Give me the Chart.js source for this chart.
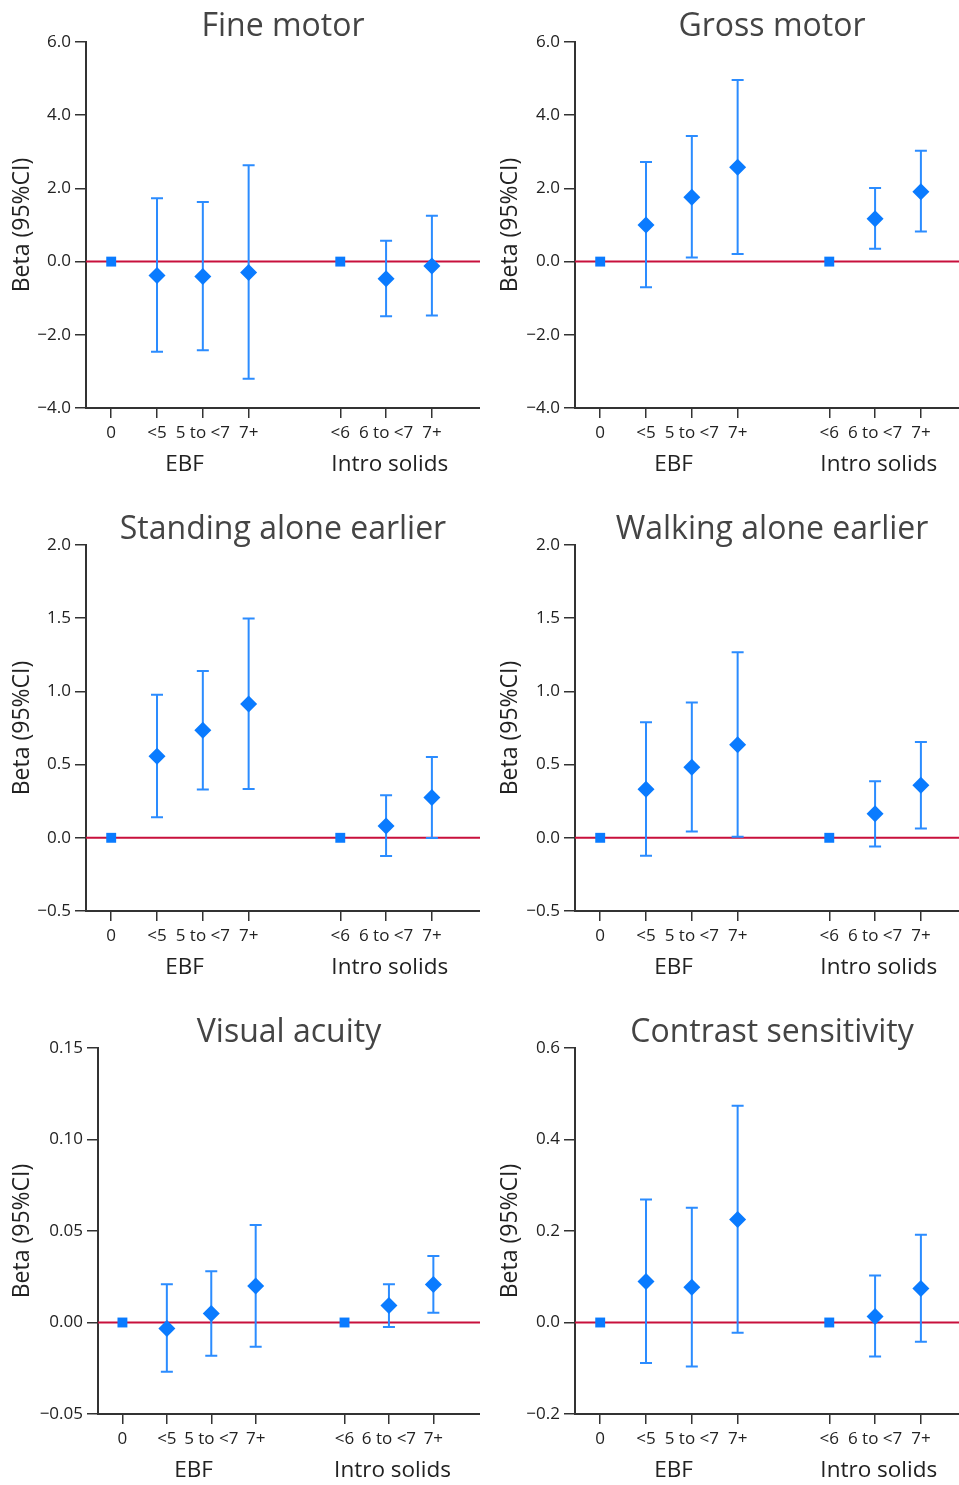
<!DOCTYPE html>
<html>
<head>
<meta charset="utf-8">
<script src="https://cdn.jsdelivr.net/npm/chart.js@4.4.1/dist/chart.umd.min.js"></script>
<style>
  html, body { margin: 0; padding: 0; background: #fff; }
  #page { position: relative; width: 959px; height: 1485px; overflow: hidden; }
  .panel { position: absolute; }
</style>
</head>
<body>
<div id="page">
  <div class="panel" style="left:0;top:0;width:480px;height:503px"><canvas id="fineMotor"></canvas></div>
  <div class="panel" style="left:480px;top:0;width:489px;height:503px"><canvas id="grossMotor"></canvas></div>
  <div class="panel" style="left:0;top:503px;width:480px;height:503px"><canvas id="standing"></canvas></div>
  <div class="panel" style="left:480px;top:503px;width:489px;height:503px"><canvas id="walking"></canvas></div>
  <div class="panel" style="left:0;top:1006px;width:480px;height:503px"><canvas id="acuity"></canvas></div>
  <div class="panel" style="left:480px;top:1006px;width:489px;height:503px"><canvas id="contrast"></canvas></div>
</div>
<script>
// categories on the x axis (gap between the two exposure groups)
const xPositions = [0, 1, 2, 3, 5, 6, 7];
const xTickLabels = ['0', '<5', '5 to <7', '7+', '<6', '6 to <7', '7+'];
const groupPositions = [1.6, 6.08];
const groupLabels = ['EBF', 'Intro solids'];
const referenceFlags = [true, false, false, false, true, false, false];

// Fine motor
const fineMotorBeta = [0, -0.38, -0.41, -0.30, 0, -0.47, -0.12];
const fineMotorLow = [null, -2.46, -2.42, -3.20, null, -1.49, -1.47];
const fineMotorHigh = [null, 1.73, 1.63, 2.63, null, 0.57, 1.25];
const motorScoreTicks = [-4, -2, 0, 2, 4, 6];

// Gross motor
const grossMotorBeta = [0, 1.00, 1.76, 2.58, 0, 1.17, 1.91];
const grossMotorLow = [null, -0.70, 0.11, 0.21, null, 0.35, 0.82];
const grossMotorHigh = [null, 2.72, 3.43, 4.96, null, 2.01, 3.03];

// Standing alone earlier
const standingBeta = [0, 0.557, 0.734, 0.914, 0, 0.080, 0.275];
const standingLow = [null, 0.141, 0.330, 0.334, null, -0.125, -0.002];
const standingHigh = [null, 0.977, 1.139, 1.498, null, 0.291, 0.552];
const milestoneTicks = [-0.5, 0, 0.5, 1.0, 1.5, 2.0];

// Walking alone earlier
const walkingBeta = [0, 0.332, 0.482, 0.636, 0, 0.164, 0.359];
const walkingLow = [null, -0.123, 0.043, 0.007, null, -0.059, 0.064];
const walkingHigh = [null, 0.789, 0.925, 1.268, null, 0.386, 0.655];

// Visual acuity
const acuityBeta = [0, -0.0033, 0.0049, 0.0200, 0, 0.0093, 0.0207];
const acuityLow = [null, -0.0269, -0.0182, -0.0133, null, -0.0025, 0.0053];
const acuityHigh = [null, 0.0209, 0.0280, 0.0533, null, 0.0209, 0.0364];
const acuityTicks = [-0.05, 0, 0.05, 0.10, 0.15];

// Contrast sensitivity
const contrastBeta = [0, 0.0895, 0.0771, 0.225, 0, 0.0131, 0.0742];
const contrastLow = [null, -0.0887, -0.096, -0.0225, null, -0.0742, -0.0422];
const contrastHigh = [null, 0.269, 0.251, 0.474, null, 0.1025, 0.192];
const contrastTicks = [-0.2, 0, 0.2, 0.4, 0.6];

const panels = [
  { id: 'fineMotor', title: 'Fine motor', beta: fineMotorBeta, low: fineMotorLow, high: fineMotorHigh, ticks: motorScoreTicks, decimals: 1, axisWidth: 86, titlePad: 9 },
  { id: 'grossMotor', title: 'Gross motor', beta: grossMotorBeta, low: grossMotorLow, high: grossMotorHigh, ticks: motorScoreTicks, decimals: 1, axisWidth: 95, titlePad: 17 },
  { id: 'standing', title: 'Standing alone earlier', beta: standingBeta, low: standingLow, high: standingHigh, ticks: milestoneTicks, decimals: 1, axisWidth: 86, titlePad: 9 },
  { id: 'walking', title: 'Walking alone earlier', beta: walkingBeta, low: walkingLow, high: walkingHigh, ticks: milestoneTicks, decimals: 1, axisWidth: 95, titlePad: 17 },
  { id: 'acuity', title: 'Visual acuity', beta: acuityBeta, low: acuityLow, high: acuityHigh, ticks: acuityTicks, decimals: 2, axisWidth: 98, titlePad: 9 },
  { id: 'contrast', title: 'Contrast sensitivity', beta: contrastBeta, low: contrastLow, high: contrastHigh, ticks: contrastTicks, decimals: 1, axisWidth: 95, titlePad: 17 }
];

const X_MIN = -0.55, X_MAX = 8.05;
const FONT = '"Open Sans", "Noto Sans", sans-serif';
const AXIS_COLOR = '#333';
const TEXT_COLOR = '#222';

Chart.defaults.font.family = FONT;

function fmt(v, d) {
  const s = Math.abs(v).toFixed(d);
  return v < -1e-9 ? '\u2212' + s : s;
}

// red reference line at 0 plus the 95% CI whiskers, under the markers
const ciPlugin = {
  id: 'ciPlugin',
  beforeDatasetsDraw(chart) {
    const { ctx, chartArea, scales: { x, y } } = chart;
    const ds = chart.data.datasets[0];
    const y0 = y.getPixelForValue(0);
    ctx.save();
    ctx.strokeStyle = '#c8103c';
    ctx.lineWidth = 2;
    ctx.beginPath();
    ctx.moveTo(chartArea.left, y0);
    ctx.lineTo(chartArea.right, y0);
    ctx.stroke();

    ctx.strokeStyle = '#2b8cff';
    ctx.lineWidth = 2;
    ds.low.forEach((lo, i) => {
      const hi = ds.high[i];
      if (lo == null || hi == null) return;
      const px = x.getPixelForValue(xPositions[i]);
      const pLo = y.getPixelForValue(lo);
      const pHi = y.getPixelForValue(hi);
      ctx.beginPath();
      ctx.moveTo(px, pLo); ctx.lineTo(px, pHi);
      ctx.moveTo(px - 6, pLo); ctx.lineTo(px + 6, pLo);
      ctx.moveTo(px - 6, pHi); ctx.lineTo(px + 6, pHi);
      ctx.stroke();
    });
    ctx.restore();
  }
};

panels.forEach(p => {
  new Chart(document.getElementById(p.id), {
    type: 'scatter',
    data: {
      datasets: [{
        data: p.beta.map((b, i) => ({ x: xPositions[i], y: b })),
        low: p.low,
        high: p.high,
        backgroundColor: '#0a7bff',
        borderWidth: 0,
        pointStyle: referenceFlags.map(r => r ? 'rect' : 'rectRot'),
        pointRadius: referenceFlags.map(r => r ? 7 : 8.5),
        pointHoverRadius: referenceFlags.map(r => r ? 7 : 8.5)
      }]
    },
    options: {
      responsive: true,
      maintainAspectRatio: false,
      animation: false,
      layout: { padding: 0, autoPadding: false },
      plugins: {
        legend: { display: false },
        tooltip: { enabled: false },
        title: {
          display: true,
          text: p.title,
          fullSize: false,
          color: '#444',
          font: { size: 32, weight: 'normal', lineHeight: 0.95 },
          padding: { top: 11.6, bottom: 0 }
        }
      },
      scales: {
        x: {
          type: 'linear',
          position: 'bottom',
          weight: 0,
          min: X_MIN,
          max: X_MAX,
          afterBuildTicks: s => { s.ticks = xPositions.map(v => ({ value: v })); },
          afterFit: s => { s.height = 43; },
          grid: { drawOnChartArea: false, tickLength: 10, color: AXIS_COLOR, lineWidth: 1.5 },
          border: { color: AXIS_COLOR, width: 2 },
          ticks: {
            autoSkip: false, maxRotation: 0, color: TEXT_COLOR, padding: 4.5,
            font: { size: 17 },
            callback: (v, i) => xTickLabels[i]
          }
        },
        x2: {
          type: 'linear',
          position: 'bottom',
          weight: 1,
          min: X_MIN,
          max: X_MAX,
          afterBuildTicks: s => { s.ticks = groupPositions.map(v => ({ value: v })); },
          afterFit: s => { s.height = 52; },
          grid: { display: false, drawTicks: false },
          border: { display: false },
          ticks: {
            autoSkip: false, maxRotation: 0, color: TEXT_COLOR, padding: 0,
            font: { size: 22.5 },
            callback: (v, i) => groupLabels[i]
          }
        },
        y: {
          min: p.ticks[0],
          max: p.ticks[p.ticks.length - 1],
          afterBuildTicks: s => { s.ticks = p.ticks.map(v => ({ value: v })); },
          afterFit: s => { s.width = p.axisWidth; },
          grid: { drawOnChartArea: false, tickLength: 11, color: AXIS_COLOR, lineWidth: 1.5 },
          border: { color: AXIS_COLOR, width: 2 },
          ticks: {
            color: TEXT_COLOR, padding: 4,
            font: { size: 17 },
            callback: v => fmt(v, p.decimals)
          },
          title: {
            display: true,
            text: 'Beta (95%CI)',
            color: TEXT_COLOR,
            font: { size: 23 },
            padding: { top: p.titlePad, bottom: 0 }
          }
        }
      }
    },
    plugins: [ciPlugin]
  });
});
</script>
</body>
</html>
